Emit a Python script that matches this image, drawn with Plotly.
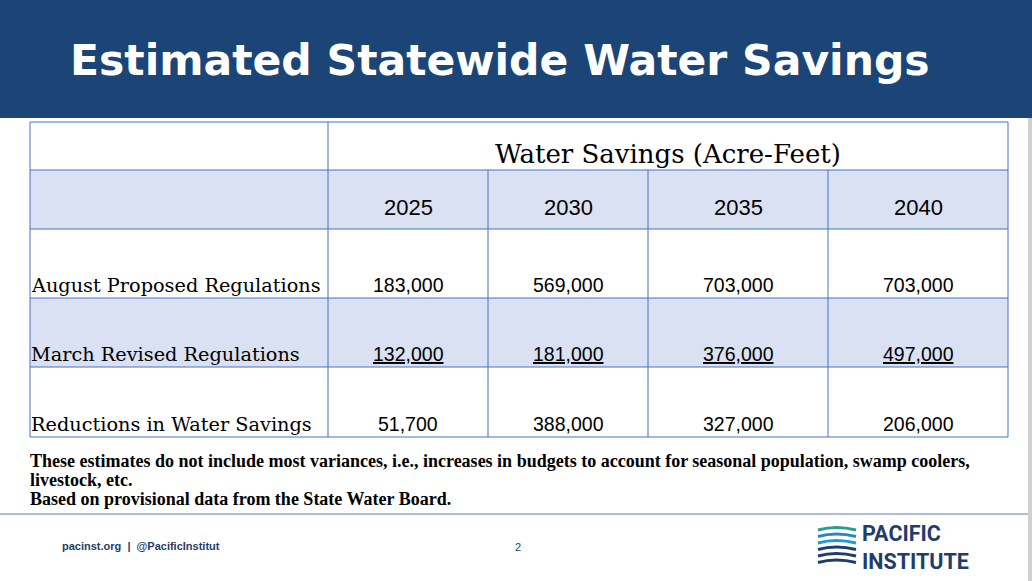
import plotly.graph_objects as go

title = "Estimated Statewide Water Savings"
group_header = "Water Savings (Acre-Feet)"
years = ["2025", "2030", "2035", "2040"]
row_labels = ["August Proposed Regulations", "March Revised Regulations", "Reductions in Water Savings"]
aug_values = ["183,000", "569,000", "703,000", "703,000"]
march_values = ["132,000", "181,000", "376,000", "497,000"]
reduction_values = ["51,700", "388,000", "327,000", "206,000"]
notes = ["These estimates do not include most variances, i.e., increases in budgets to account for seasonal population, swamp coolers,",
         "livestock, etc.",
         "Based on provisional data from the State Water Board."]

W, H = 1032, 581
col_edges = [30, 328, 488, 648, 828, 1008]
row_edges = [122, 170, 229, 298, 367, 437]
navy = "#1a4576"
border = "#4472c4"
band = "#d9e1f2"

fig = go.Figure()
shapes = []
ann = []

# header band
shapes.append(dict(type="rect", x0=0, x1=W, y0=0, y1=118, fillcolor=navy, line_width=0, layer="below"))
ann.append(dict(x=500, y=60, text="<b>" + title + "</b>", showarrow=False,
                font=dict(family="DejaVu Sans", size=42.5, color="white")))

# row fills
for i in range(5):
    fill = band if i in (1, 3) else "white"
    shapes.append(dict(type="rect", x0=col_edges[0], x1=col_edges[-1], y0=row_edges[i], y1=row_edges[i + 1],
                       fillcolor=fill, line_width=0, layer="below"))
# grid lines
for y in row_edges:
    shapes.append(dict(type="line", x0=col_edges[0], x1=col_edges[-1], y0=y, y1=y, line=dict(color=border, width=1)))
for j, x in enumerate(col_edges):
    y0 = row_edges[1] if j in (2, 3, 4) else row_edges[0]
    shapes.append(dict(type="line", x0=x, x1=x, y0=y0, y1=row_edges[-1], line=dict(color=border, width=1)))

centers = [(col_edges[j] + col_edges[j + 1]) / 2 for j in range(1, 5)]
ann.append(dict(x=(col_edges[1] + col_edges[-1]) / 2, y=154, text=group_header, showarrow=False,
                font=dict(family="DejaVu Serif", size=26, color="black")))
for cx, yr in zip(centers, years):
    ann.append(dict(x=cx, y=207, text=yr, showarrow=False,
                    font=dict(family="Liberation Sans", size=22, color="black")))

for r, (label, vals) in enumerate(zip(row_labels, [aug_values, march_values, reduction_values])):
    yb = row_edges[r + 3] - 13
    ann.append(dict(x=29, y=yb, text=label, showarrow=False, xanchor="left",
                    font=dict(family="DejaVu Serif", size=19.3, color="black")))
    for cx, v in zip(centers, vals):
        t = "<u>" + v + "</u>" if r == 1 else v
        ann.append(dict(x=cx, y=yb, text=t, showarrow=False,
                        font=dict(family="Liberation Sans", size=19.5, color="black")))

for k, n in enumerate(notes):
    ann.append(dict(x=28, y=461 + k * 19, text="<b>" + n + "</b>", showarrow=False, xanchor="left",
                    font=dict(family="Liberation Serif", size=18, color="black")))

# footer
shapes.append(dict(type="line", x0=0, x1=W, y0=514, y1=514, line=dict(color="#8ea9c8", width=1.5)))
shapes.append(dict(type="rect", x0=W - 4, x1=W, y0=118, y1=H, fillcolor="#d0d0d0", line_width=0))
ann.append(dict(x=60, y=546, text="<b>pacinst.org  |  @PacificInstitut</b>", showarrow=False, xanchor="left",
                font=dict(family="Liberation Sans", size=11, color="#1f3d6b")))
ann.append(dict(x=518, y=547, text="2", showarrow=False, font=dict(family="Liberation Sans", size=11, color="#1f3d6b")))
ann.append(dict(x=860, y=547, text="<b>PACIFIC<br>INSTITUTE</b>", showarrow=False, xanchor="left", align="left",
                font=dict(family="Roboto", size=21.5, color="#1f3d6b")))
logo_colors = ["#2a9d8f", "#2e86c1", "#1f9bd1", "#1f3d6b", "#1f3d6b", "#1f3d6b"]
for k, c in enumerate(logo_colors):
    y = 530 + k * 6.5
    shapes.append(dict(type="path", path=f"M 818 {y} Q 836 {y-5} 856 {y}", line=dict(color=c, width=3)))

fig.update_layout(width=W, height=H, margin=dict(l=0, r=0, t=0, b=0), plot_bgcolor="white", paper_bgcolor="white",
                  shapes=shapes, annotations=ann, showlegend=False,
                  xaxis=dict(range=[0, W], visible=False, fixedrange=True),
                  yaxis=dict(range=[H, 0], visible=False, fixedrange=True))
fig.write_html("out.html", config={"displayModeBar": False},
               post_script="document.body.style.margin='0';document.body.style.overflow='hidden';")
